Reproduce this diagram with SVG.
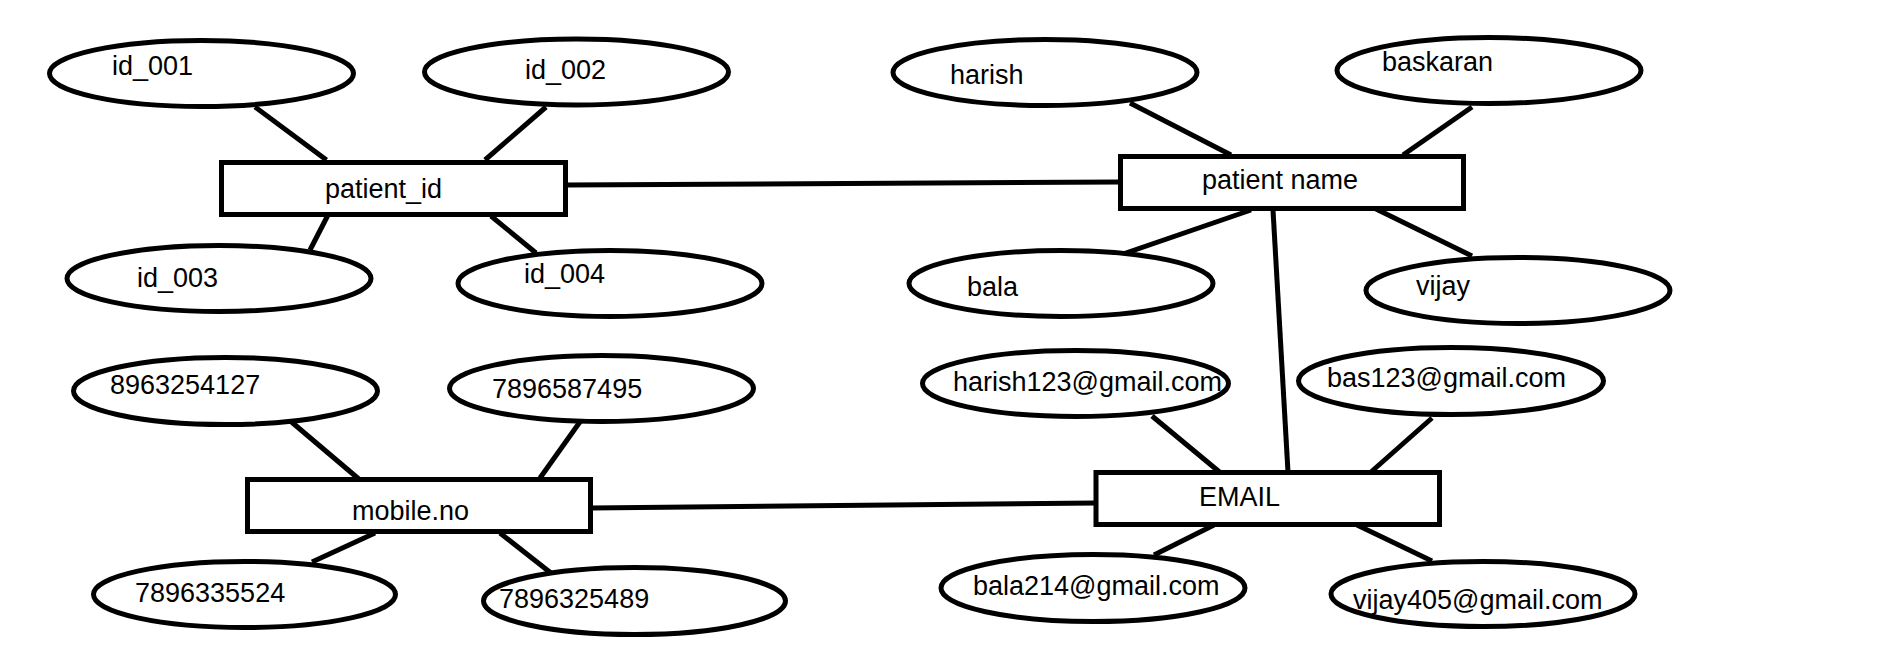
<svg xmlns="http://www.w3.org/2000/svg" width="1879" height="648" viewBox="0 0 1879 648">
<style>
.e{fill:#fff;stroke:#000;stroke-width:5}
.b{fill:#fff;stroke:#000;stroke-width:5}
.t{font-family:"Liberation Sans",Arial,sans-serif;font-size:27px;fill:#000}
#connectors line{stroke:#000;stroke-width:5;stroke-linecap:butt}
</style>
<rect width="1879" height="648" fill="#fff"/>
<g id="connectors">
<line x1="255" y1="107" x2="326.5" y2="160"/>
<line x1="546" y1="107" x2="485" y2="160"/>
<line x1="328" y1="215" x2="310" y2="250"/>
<line x1="491" y1="216" x2="536" y2="253"/>
<line x1="566" y1="185" x2="1120" y2="182"/>
<line x1="1130" y1="103" x2="1231" y2="155"/>
<line x1="1472" y1="107" x2="1403" y2="155"/>
<line x1="1251" y1="210" x2="1120" y2="255"/>
<line x1="1374" y1="208" x2="1472" y2="256"/>
<line x1="1273" y1="210" x2="1288" y2="472"/>
<line x1="288" y1="419" x2="360" y2="480"/>
<line x1="582" y1="419" x2="540" y2="478"/>
<line x1="375" y1="533" x2="312" y2="562"/>
<line x1="500" y1="533" x2="556" y2="577"/>
<line x1="591" y1="508" x2="1096" y2="503"/>
<line x1="1152" y1="416" x2="1219.5" y2="472"/>
<line x1="1432" y1="418" x2="1371" y2="472"/>
<line x1="1214" y1="525" x2="1154" y2="555"/>
<line x1="1357" y1="525" x2="1432" y2="561"/>
</g>
<g id="patient_id"><rect class="b" x="221.5" y="162.5" width="344" height="52"/><text class="t" x="325" y="198">patient_id</text></g>
<g id="patient_name"><rect class="b" x="1120.5" y="156.5" width="343" height="52"/><text class="t" x="1202" y="189">patient name</text></g>
<g id="mobile_no"><rect class="b" x="247.5" y="479.5" width="343" height="52"/><text class="t" x="352" y="520">mobile.no</text></g>
<g id="email"><rect class="b" x="1096" y="472.5" width="343.5" height="52"/><text class="t" x="1199" y="506">EMAIL</text></g>
<g id="id_001"><ellipse class="e" cx="201.5" cy="73.5" rx="152" ry="33"/><text class="t" x="112" y="75">id_001</text></g>
<g id="id_002"><ellipse class="e" cx="576.5" cy="72" rx="152" ry="33"/><text class="t" x="525" y="79">id_002</text></g>
<g id="id_003"><ellipse class="e" cx="219" cy="278.5" rx="152" ry="33"/><text class="t" x="137" y="287">id_003</text></g>
<g id="id_004"><ellipse class="e" cx="610" cy="283.5" rx="152" ry="33"/><text class="t" x="524" y="283">id_004</text></g>
<g id="harish"><ellipse class="e" cx="1045" cy="72.5" rx="152" ry="33"/><text class="t" x="950" y="84">harish</text></g>
<g id="baskaran"><ellipse class="e" cx="1489" cy="70.5" rx="152" ry="33"/><text class="t" x="1382" y="71">baskaran</text></g>
<g id="bala"><ellipse class="e" cx="1061" cy="283.5" rx="152" ry="33"/><text class="t" x="967" y="296">bala</text></g>
<g id="vijay"><ellipse class="e" cx="1518" cy="290.5" rx="152" ry="33"/><text class="t" x="1416" y="295">vijay</text></g>
<g id="m8963254127"><ellipse class="e" cx="225.5" cy="391" rx="152" ry="33.5"/><text class="t" x="110" y="394">8963254127</text></g>
<g id="m7896587495"><ellipse class="e" cx="601.5" cy="388.5" rx="152" ry="33"/><text class="t" x="492" y="398">7896587495</text></g>
<g id="m7896335524"><ellipse class="e" cx="244.5" cy="594.5" rx="151" ry="33"/><text class="t" x="135" y="602">7896335524</text></g>
<g id="m7896325489"><ellipse class="e" cx="634.5" cy="601" rx="151" ry="33.5"/><text class="t" x="499" y="608">7896325489</text></g>
<g id="harish123"><ellipse class="e" cx="1075.5" cy="383.5" rx="153" ry="33"/><text class="t" x="953" y="391">harish123@gmail.com</text></g>
<g id="bas123"><ellipse class="e" cx="1451" cy="381" rx="152.5" ry="33.5"/><text class="t" x="1327" y="387">bas123@gmail.com</text></g>
<g id="bala214"><ellipse class="e" cx="1093" cy="588" rx="152" ry="33.5"/><text class="t" x="973" y="595">bala214@gmail.com</text></g>
<g id="vijay405"><ellipse class="e" cx="1483" cy="594" rx="152" ry="32.5"/><text class="t" x="1353" y="609">vijay405@gmail.com</text></g>
</svg>
